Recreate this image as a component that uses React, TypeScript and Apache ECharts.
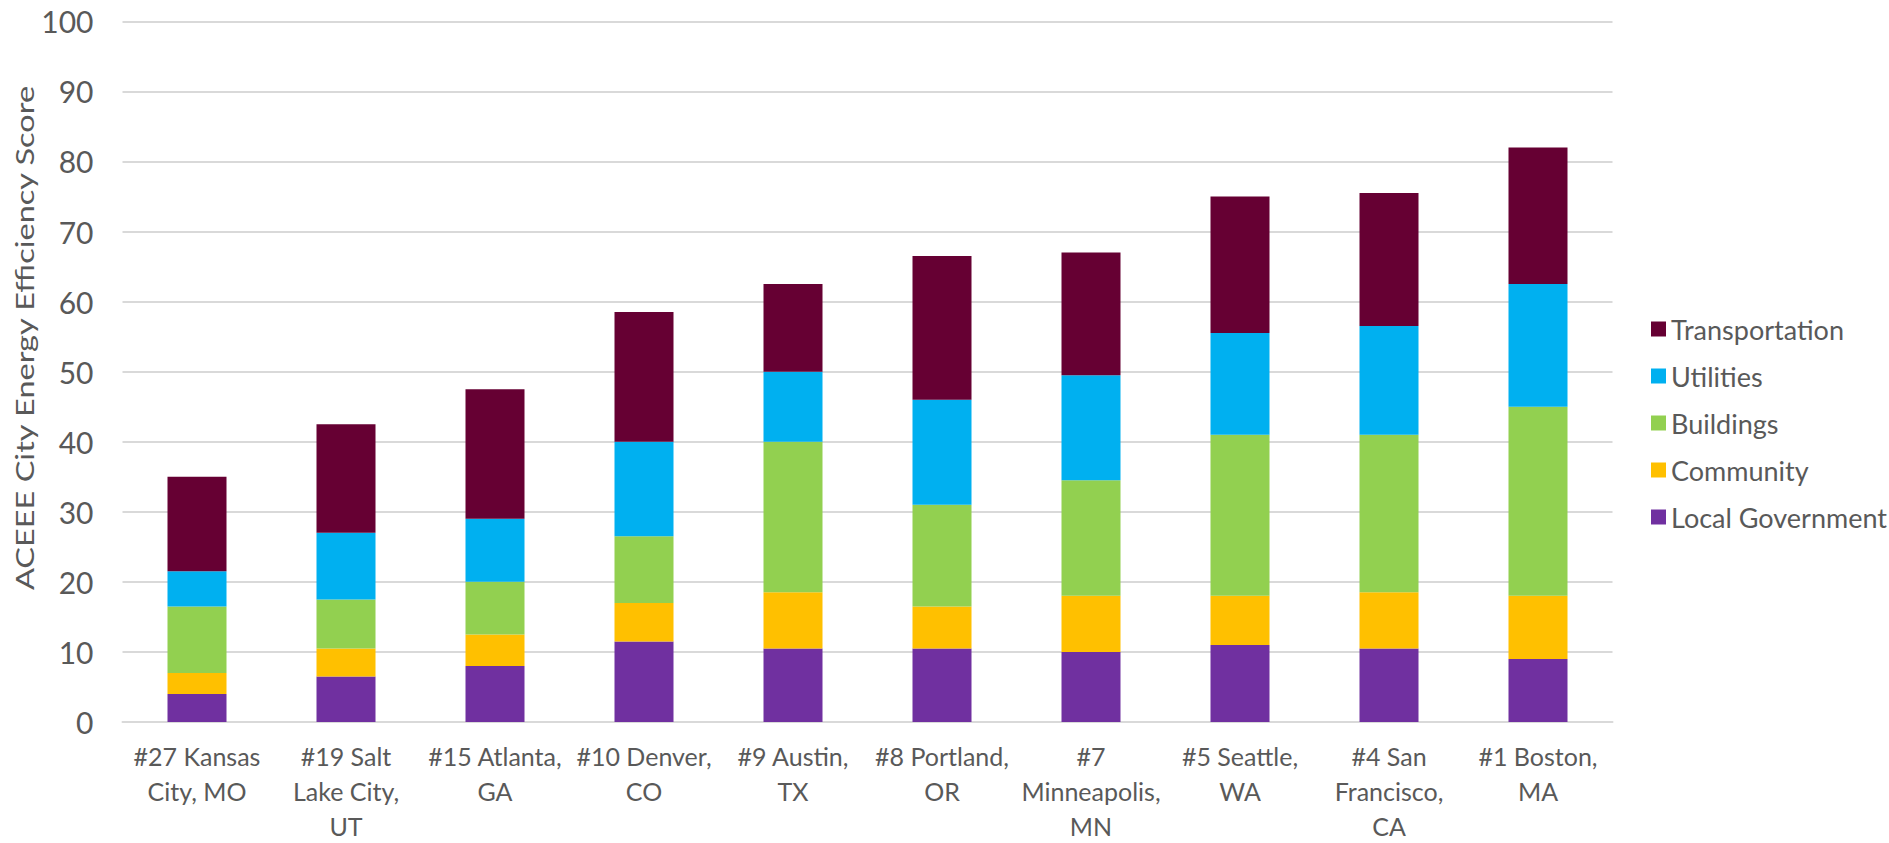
import React, { useEffect, useRef } from "react";
import * as echarts from "echarts";

// City rankings (ACEEE City Energy Efficiency Scorecard)
const cities = [
  "#27 Kansas\nCity, MO",
  "#19 Salt\nLake City,\nUT",
  "#15 Atlanta,\nGA",
  "#10 Denver,\nCO",
  "#9 Austin,\nTX",
  "#8 Portland,\nOR",
  "#7\nMinneapolis,\nMN",
  "#5 Seattle,\nWA",
  "#4 San\nFrancisco,\nCA",
  "#1 Boston,\nMA",
];

// Score components, stacked from the bottom up
const localGovernment = [4, 6.5, 8, 11.5, 10.5, 10.5, 10, 11, 10.5, 9];
const community = [3, 4, 4.5, 5.5, 8, 6, 8, 7, 8, 9];
const buildings = [9.5, 7, 7.5, 9.5, 21.5, 14.5, 16.5, 23, 22.5, 27];
const utilities = [5, 9.5, 9, 13.5, 10, 15, 15, 14.5, 15.5, 17.5];
const transportation = [13.5, 15.5, 18.5, 18.5, 12.5, 20.5, 17.5, 19.5, 19, 19.5];

const seriesDefs = [
  { name: "Local Government", data: localGovernment, color: "#7030A0" },
  { name: "Community", data: community, color: "#FFC000" },
  { name: "Buildings", data: buildings, color: "#92D050" },
  { name: "Utilities", data: utilities, color: "#00B0F0" },
  { name: "Transportation", data: transportation, color: "#660033" },
];

const legendOrder = ["Transportation", "Utilities", "Buildings", "Community", "Local Government"];

const FONT = "Lato, 'Liberation Sans', sans-serif";
const TEXT = "#595959";
const GRID = "#D9D9D9";

export default function App() {
  const ref = useRef<HTMLDivElement>(null);

  useEffect(() => {
    if (!ref.current) return;
    const chart = echarts.init(ref.current, undefined, { renderer: "svg" });
    chart.setOption({
      animation: false,
      backgroundColor: "#FFFFFF",
      grid: {
        left: 122.5,
        right: 276.5,
        top: 21.3,
        bottom: 121,
        containLabel: false,
        outerBoundsMode: "none",
      },
      legend: {
        orient: "vertical",
        left: 1646,
        top: 308,
        itemWidth: 15,
        itemHeight: 15,
        itemGap: 15,
        icon: "rect",
        data: legendOrder,
        textStyle: { color: TEXT, fontFamily: FONT, fontSize: 27, lineHeight: 32 },
      },
      xAxis: {
        type: "category",
        data: cities,
        axisTick: { show: false },
        axisLine: { lineStyle: { color: GRID, width: 2 } },
        axisLabel: {
          interval: 0,
          margin: 16,
          color: TEXT,
          fontFamily: FONT,
          fontSize: 25,
          lineHeight: 35,
        },
      },
      yAxis: {
        type: "value",
        min: 0,
        max: 100,
        interval: 10,
        axisLine: { show: false },
        axisTick: { show: false },
        splitLine: { lineStyle: { color: GRID, width: 2 } },
        axisLabel: { margin: 29, color: TEXT, fontFamily: FONT, fontSize: 30 },
      },
      graphic: [
        {
          type: "text",
          x: 24,
          y: 338,
          rotation: Math.PI / 2,
          scaleX: 1.3,
          style: {
            text: "ACEEE City Energy Efficiency Score",
            fill: TEXT,
            font: `25px ${FONT}`,
            align: "center",
            verticalAlign: "middle",
          },
        },
      ],
      series: seriesDefs.map((s) => ({
        name: s.name,
        type: "bar",
        stack: "score",
        barWidth: 59,
        data: s.data,
        itemStyle: { color: s.color },
      })),
    });
    return () => chart.dispose();
  }, []);

  return (
    <div
      ref={ref}
      style={{ position: "fixed", left: 0, top: 0, width: 1889, height: 843 }}
    />
  );
}
